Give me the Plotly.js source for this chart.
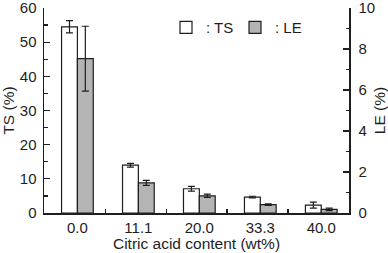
<!DOCTYPE html>
<html>
<head>
<meta charset="utf-8">
<script src="https://cdn.plot.ly/plotly-3.0.1.min.js"></script>
<style>
html,body{margin:0;padding:0;background:#fff;}
#chart{width:388px;height:253px;}
</style>
</head>
<body>
<div id="chart"></div>
<script>
// Data
const categories = ["0.0", "11.1", "20.0", "33.3", "40.0"];
const catIndex = [0, 1, 2, 3, 4];
const tsValues = [54.5, 14.0, 7.1, 4.65, 2.3];
const tsErrors = [1.8, 0.55, 0.7, 0.25, 0.9];
const leValues = [7.53, 1.47, 0.84, 0.41, 0.18];
const leErrors = [1.58, 0.12, 0.08, 0.04, 0.06];

const FONT = "Liberation Sans, Arial, Helvetica, sans-serif";
const INK = "#1e1e1e";

const traces = [
  {
    type: "bar", name: ": TS", x: catIndex, y: tsValues,
    width: 0.26, offset: -0.26,
    marker: {color: "#ffffff", line: {color: INK, width: 1.2}},
    error_y: {type: "data", array: tsErrors, visible: true, color: INK, thickness: 1.2, width: 3.5},
    xaxis: "x", yaxis: "y"
  },
  {
    type: "bar", name: ": LE", x: catIndex, y: leValues,
    width: 0.26, offset: 0,
    marker: {color: "#b4b4b4", line: {color: INK, width: 1.2}},
    error_y: {type: "data", array: leErrors, visible: true, color: INK, thickness: 1.2, width: 3.5},
    xaxis: "x", yaxis: "y2"
  }
];

const layout = {
  width: 388, height: 253,
  margin: {l: 44, r: 39, t: 8, b: 40, pad: 0},
  paper_bgcolor: "#fff", plot_bgcolor: "#fff",
  font: {family: FONT, size: 15, color: INK},
  showlegend: true,
  legend: {
    orientation: "h", x: 0.40, y: 0.985, xanchor: "left", yanchor: "top",
    bgcolor: "rgba(0,0,0,0)", font: {size: 15, color: INK},
    entrywidth: 24, entrywidthmode: "pixels", traceorder: "normal"
  },
  xaxis: {
    range: [-0.548, 4.455],
    tickmode: "array", tickvals: catIndex, ticktext: categories,
    ticks: "inside", ticklen: 0,
    minor: {tick0: 0.455, dtick: 1, ticks: "inside", ticklen: 4.5, tickwidth: 1.2, tickcolor: INK},
    showline: true, linecolor: INK, linewidth: 1.5, mirror: false,
    showgrid: false, zeroline: false,
    tickfont: {size: 15},
    title: {text: "Citric acid content (wt%)", font: {size: 15.5}, standoff: 3}
  },
  yaxis: {
    range: [0, 60], dtick: 10, tick0: 0,
    ticks: "inside", ticklen: 6, tickwidth: 1.2, tickcolor: INK,
    minor: {dtick: 5, ticks: "inside", ticklen: 3.5, tickwidth: 1.2, tickcolor: INK},
    showline: true, linecolor: INK, linewidth: 1.5,
    showgrid: false, zeroline: false,
    ticklabelstandoff: 3, ticklabeloverflow: "allow",
    tickfont: {size: 15},
    title: {text: "TS (%)", font: {size: 15.5}, standoff: 5}
  },
  yaxis2: {
    overlaying: "y", side: "right", anchor: "x",
    range: [0, 10], dtick: 2, tick0: 0,
    ticks: "inside", ticklen: 6, tickwidth: 1.2, tickcolor: INK,
    minor: {dtick: 1, ticks: "inside", ticklen: 3.5, tickwidth: 1.2, tickcolor: INK},
    showline: true, linecolor: INK, linewidth: 1.5,
    showgrid: false, zeroline: false,
    ticklabelstandoff: 5, ticklabeloverflow: "allow",
    tickfont: {size: 15},
    title: {text: "LE (%)", font: {size: 15.5}, standoff: 5}
  }
};

Plotly.newPlot("chart", traces, layout, {staticPlot: true, displayModeBar: false});
</script>
</body>
</html>
